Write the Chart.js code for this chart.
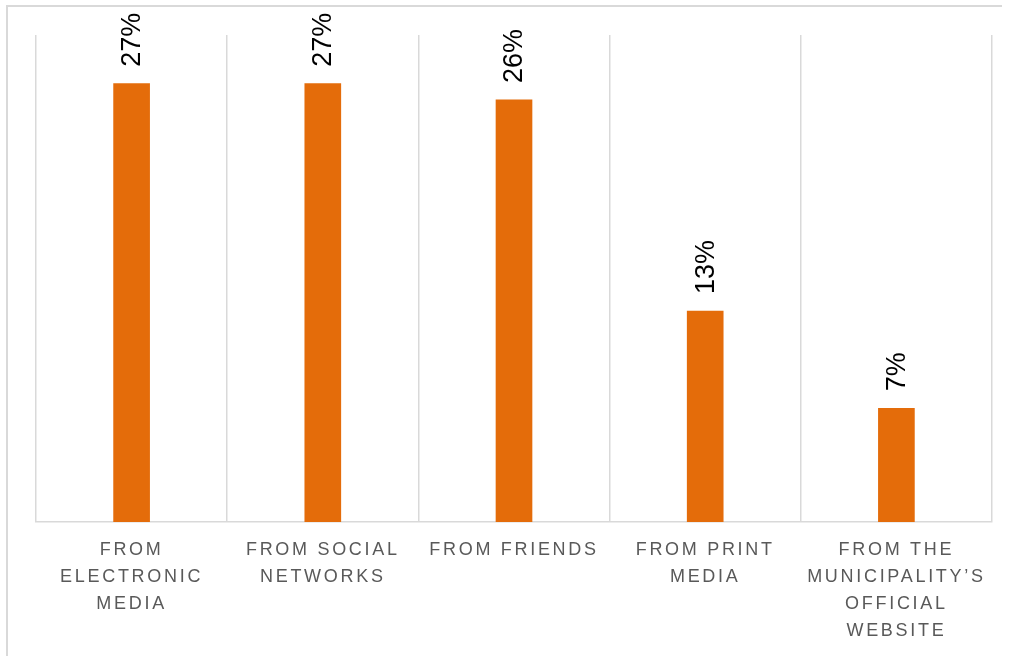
<!DOCTYPE html>
<html>
<head>
<meta charset="utf-8">
<script src="https://cdn.jsdelivr.net/npm/chart.js@4.4.1/dist/chart.umd.min.js"></script>
<style>
  html, body { margin: 0; padding: 0; background: #ffffff; }
  #wrap { position: relative; width: 1010px; height: 656px; overflow: hidden; }
  #frame { position: absolute; left: 6px; top: 5px; width: 996px; height: 700px;
           border-left: 2px solid #d9d9d9; border-top: 2px solid #d9d9d9; box-sizing: border-box; }
  #c { position: absolute; left: 0; top: 0; }
</style>
</head>
<body>
<div id="wrap">
  <div id="frame"></div>
  <canvas id="c" width="1010" height="656"></canvas>
</div>
<script>
const categories = [
  ["FROM", "ELECTRONIC", "MEDIA"],
  ["FROM SOCIAL", "NETWORKS"],
  ["FROM FRIENDS"],
  ["FROM PRINT", "MEDIA"],
  ["FROM THE", "MUNICIPALITY\u2019S", "OFFICIAL", "WEBSITE"]
];
const values = [27, 27, 26, 13, 7];
const yMax = 30;

const barColor = "#E46C0A";
const gridColor = "#d9d9d9";

const spacingPlugin = {
  id: "spacing",
  beforeDraw(chart) { chart.ctx.letterSpacing = "2.7px"; },
  beforeDatasetsDraw(chart) { chart.ctx.letterSpacing = "0px"; }
};

const valueLabels = {
  id: "valueLabels",
  afterDatasetsDraw(chart) {
    const ctx = chart.ctx;
    const meta = chart.getDatasetMeta(0);
    ctx.save();
    ctx.letterSpacing = "0px";
    ctx.fillStyle = "#000000";
    ctx.font = "27px 'Liberation Sans', Arial, sans-serif";
    ctx.textAlign = "left";
    ctx.textBaseline = "middle";
    meta.data.forEach((bar, i) => {
      ctx.save();
      ctx.translate(bar.x + 1, bar.y - 17);
      ctx.rotate(-Math.PI / 2);
      ctx.fillText(values[i] + "%", 0, 0);
      ctx.restore();
    });
    ctx.restore();
  }
};

new Chart(document.getElementById("c"), {
  type: "bar",
  data: {
    labels: categories,
    datasets: [{
      data: values,
      backgroundColor: barColor,
      borderWidth: 0,
      barThickness: 36
    }]
  },
  options: {
    responsive: false,
    animation: false,
    devicePixelRatio: 1,
    layout: { padding: { left: 36, right: 18, top: 35, bottom: 0 } },
    plugins: { legend: { display: false }, tooltip: { enabled: false } },
    scales: {
      x: {
        grid: { color: gridColor, lineWidth: 1.5, drawTicks: false, offset: true },
        border: { color: gridColor, width: 1.5 },
        ticks: {
          color: "#595959",
          font: { family: "'Liberation Sans', Arial, sans-serif", size: 18, lineHeight: 1.5 },
          padding: 15,
          maxRotation: 0,
          autoSkip: false
        },
        afterFit(scale) { scale.height = 134; }
      },
      y: {
        display: false,
        min: 0,
        max: yMax
      }
    }
  },
  plugins: [spacingPlugin, valueLabels]
});
</script>
</body>
</html>
